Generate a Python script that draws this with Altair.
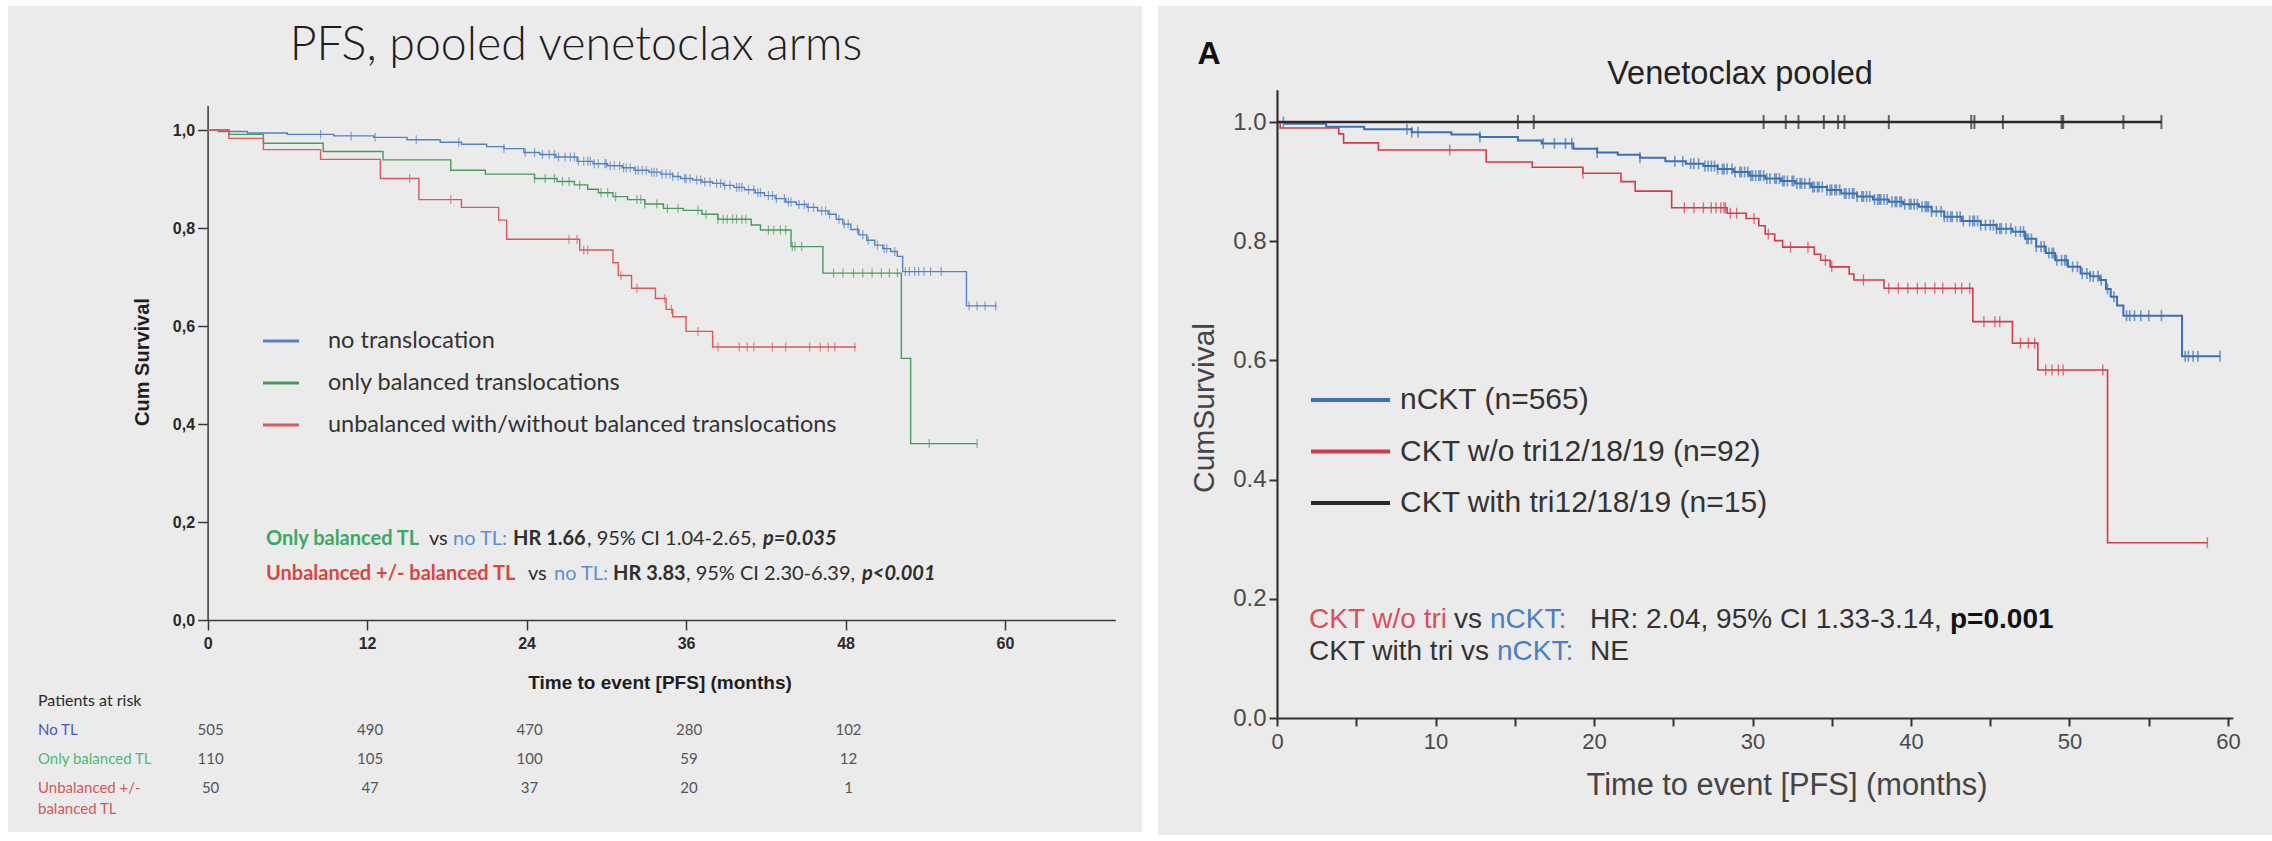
import altair as alt
import numpy as np
import pandas as pd

# ---------------- Left panel: PFS by translocation status ----------------
L_NO_T = [0, 0.8, 3, 6, 9.5, 12.5, 15, 17.5, 19.1, 21, 22.3, 23.8, 25.0, 26.2, 27.8, 29.0, 30.1,
          31.2, 32.1, 33.2, 34.1, 35.0, 35.6, 36.5, 37.2, 38.0, 38.8, 39.6, 40.4, 41.2, 41.9, 42.7,
          43.5, 44.3, 45.1, 45.9, 46.7, 47.3, 47.8, 48.4, 49.0, 49.6, 50.2, 50.8, 51.4, 51.9, 52.3,
          57.1, 59.4]
L_NO_S = [1.0, 0.997, 0.994, 0.991, 0.988, 0.985, 0.980, 0.975, 0.971, 0.966, 0.962, 0.954, 0.950,
          0.945, 0.936, 0.931, 0.927, 0.923, 0.918, 0.914, 0.910, 0.905, 0.901, 0.898, 0.894, 0.891,
          0.887, 0.883, 0.878, 0.872, 0.866, 0.860, 0.853, 0.848, 0.842, 0.835, 0.828, 0.818, 0.808,
          0.797, 0.786, 0.775, 0.765, 0.758, 0.752, 0.742, 0.711, 0.641, 0.641]
L_NO_CENS = [8.5, 10.8, 12.6, 15.7, 18.9, 22.3, 23.9, 24.6, 25.2, 25.7, 26.4, 26.9, 27.3, 27.9, 28.3,
             28.6, 29.1, 29.4, 29.9, 30.3, 30.6, 31.0, 31.5, 31.8, 32.2, 32.7, 33.0, 33.4, 33.8, 34.2,
             34.5, 35.0, 35.4, 35.9, 36.3, 36.8, 37.4, 37.8, 38.3, 38.9, 39.3, 39.8, 40.2, 40.7, 41.1,
             41.6, 42.2, 42.8, 43.4, 43.9, 44.5, 44.9, 45.6, 46.2, 46.8, 47.5, 48.2, 48.9, 49.7, 50.4,
             51.1, 51.7, 52.5, 52.8, 53.2, 53.5, 53.9, 54.4, 55.2, 57.3, 57.9, 58.5, 59.3,
             26.1, 27.6, 28.8, 30.0, 31.3, 32.4, 33.6, 34.8, 36.0, 37.1, 38.6, 40.0, 41.4, 42.5,
             43.7, 45.2, 46.5, 47.9, 49.3, 50.9]

L_BAL_T = [0, 1.6, 4.2, 8.7, 13.2, 18.3, 20.9, 24.6, 26.3, 27.6, 28.6, 29.4, 30.5, 31.6, 32.9, 34.3,
           35.8, 37.2, 38.4, 40.9, 41.6, 43.9, 46.3, 52.2, 52.9, 57.9]
L_BAL_S = [1.0, 0.991, 0.973, 0.956, 0.939, 0.918, 0.910, 0.901, 0.895, 0.888, 0.879, 0.872, 0.864,
           0.858, 0.849, 0.840, 0.836, 0.828, 0.818, 0.806, 0.796, 0.762, 0.708, 0.534, 0.360, 0.360]
L_BAL_CENS = [24.6, 25.4, 26.1, 26.7, 27.2, 28.0, 29.6, 30.1, 30.7, 32.3, 32.6, 32.9, 33.8, 34.6, 35.4,
              36.9, 37.5, 38.4, 38.8, 39.1, 39.5, 39.8, 40.2, 40.5, 42.2, 42.6, 43.1, 43.5, 44.0, 44.2,
              44.7, 47.1, 47.8, 48.6, 49.3, 50.0, 50.7, 51.3, 51.9, 54.3, 57.9]

L_UNB_T = [0, 1.6, 4.2, 8.5, 13.0, 15.9, 19.1, 21.9, 22.5, 28.0, 30.5, 30.9, 31.9, 33.7, 34.5, 35.0,
           36.0, 38.0, 48.8]
L_UNB_S = [1.0, 0.983, 0.960, 0.940, 0.901, 0.858, 0.842, 0.816, 0.777, 0.755, 0.729, 0.703, 0.677,
           0.656, 0.634, 0.619, 0.589, 0.557, 0.557]
L_UNB_CENS = [15.2, 18.3, 27.2, 27.8, 28.3, 28.6, 31.1, 32.3, 34.4, 34.9, 36.9, 38.4, 40.0, 40.6, 41.1,
              42.5, 43.5, 45.3, 46.1, 46.7, 47.2, 48.7]

RISK_MONTHS = [0, 12, 24, 36, 48]
RISK_NO_TL = [505, 490, 470, 280, 102]
RISK_BAL = [110, 105, 100, 59, 12]
RISK_UNBAL = [50, 47, 37, 20, 1]

# ---------------- Right panel: PFS by karyotype complexity ----------------
R_NCKT_T = [0, 0.5, 3.1, 5.5, 8.5, 11.0, 12.8, 15.2, 16.7, 18.7, 20.2, 21.5, 22.9, 24.5, 25.8, 26.9,
            27.8, 28.8, 29.8, 30.8, 31.8, 32.7, 33.7, 34.7, 35.6, 36.6, 37.6, 38.6, 39.5, 40.5, 41.3,
            42.1, 43.2, 44.4, 45.4, 46.4, 47.2, 47.9, 48.5, 49.1, 49.9, 50.7, 51.3, 51.9, 52.3, 52.6,
            53.0, 53.4, 57.1, 59.5]
R_NCKT_S = [1.0, 0.997, 0.992, 0.988, 0.983, 0.979, 0.975, 0.969, 0.964, 0.955, 0.949, 0.945, 0.940,
            0.934, 0.930, 0.926, 0.921, 0.916, 0.910, 0.905, 0.901, 0.897, 0.891, 0.886, 0.880, 0.875,
            0.870, 0.866, 0.862, 0.858, 0.850, 0.841, 0.834, 0.827, 0.821, 0.816, 0.804, 0.791, 0.780,
            0.768, 0.757, 0.746, 0.741, 0.735, 0.720, 0.707, 0.692, 0.675, 0.607, 0.607]
R_NCKT_CENS = [0.4, 8.2, 8.5, 8.9, 12.8, 16.8, 17.5, 18.2, 18.6, 20.2, 22.9, 25.1, 25.6, 26.1, 26.6,
               27.0, 27.2, 27.6, 28.1, 28.4, 28.7, 29.2, 29.5, 29.9, 30.2, 30.5, 30.9, 31.4, 31.7,
               32.0, 32.5, 32.8, 33.1, 33.6, 33.9, 34.2, 34.7, 35.0, 35.3, 35.8, 36.1, 36.4, 36.9,
               37.2, 37.7, 38.0, 38.3, 38.8, 39.1, 39.4, 39.9, 40.2, 40.7, 41.0, 41.3, 41.9, 42.3,
               42.6, 43.1, 43.7, 44.0, 44.4, 45.0, 45.4, 45.7, 46.3, 46.9, 47.3, 47.6, 48.2, 48.7,
               49.0, 49.5, 49.8, 50.5, 51.1, 51.5, 52.0, 52.4, 52.8, 53.6, 53.8, 54.1, 54.5, 55.0,
               55.8, 57.3, 57.5, 57.8, 58.1, 59.5,
               26.3, 27.4, 27.8, 28.2, 28.9, 29.3, 29.7, 30.0, 30.4, 30.7, 31.1, 31.5, 31.9, 32.2,
               32.6, 33.0, 33.3, 33.8, 34.1, 34.4, 34.9, 35.2, 35.5, 35.9, 36.3, 36.6, 37.0, 37.4,
               37.9, 38.1, 38.5, 39.0, 39.3, 39.6, 40.0, 40.4, 40.9, 41.1, 41.6, 42.1, 42.5, 42.9,
               43.3, 43.9, 44.2, 44.7, 45.2, 45.6, 46.0, 46.6, 47.1, 47.4, 47.9, 48.4, 48.9, 49.2,
               49.7, 50.2, 50.8, 51.3, 51.8]

R_CKT_T = [0, 0.2, 3.9, 4.2, 6.4, 13.2, 16.1, 19.3, 21.7, 22.6, 24.9, 28.4, 29.6, 30.4, 30.8, 31.4,
           31.9, 33.9, 34.3, 34.9, 36.1, 36.4, 38.3, 43.9, 46.4, 48.0, 52.4, 58.7]
R_CKT_S = [1.0, 0.990, 0.980, 0.965, 0.953, 0.933, 0.924, 0.914, 0.900, 0.884, 0.856, 0.847, 0.838,
           0.826, 0.812, 0.801, 0.790, 0.778, 0.768, 0.757, 0.745, 0.735, 0.721, 0.665, 0.629, 0.584,
           0.294, 0.294]
R_CKT_CENS = [10.9, 19.3, 25.7, 26.3, 26.9, 27.4, 27.7, 28.0, 28.2, 28.3, 28.6, 29.0, 30.1, 31.0, 32.4,
              33.5, 34.6, 35.0, 37.0, 38.6, 39.2, 39.8, 40.4, 40.9, 41.5, 42.0, 42.8, 43.2, 43.7, 44.6,
              45.3, 45.6, 46.9, 47.4, 47.8, 48.5, 48.9, 49.3, 49.6, 52.1, 58.7]

R_TRI_T = [0, 55.8]
R_TRI_S = [1.0, 1.0]
R_TRI_CENS = [15.2, 16.2, 30.7, 32.1, 32.9, 34.5, 35.4, 35.8, 38.6, 43.8, 44.0, 45.8, 49.5, 49.6,
              53.4, 55.8]

# ---------------- colours and fonts ----------------
BG = "#ebebeb"
L_BLUE, L_GREEN, L_RED = "#5680c4", "#4a9a5c", "#d95a5a"
R_BLUE, R_RED, R_BLACK = "#3b70b6", "#d23c48", "#2a2a2a"
CALIBRI = "Lato"
ARIAL = "Liberation Sans"

ONE = pd.DataFrame({"k": [0]})


def step_frame(t, s):
    return pd.DataFrame({"t": t, "s": s})


def censor_frame(ct, t, s):
    idx = np.searchsorted(np.asarray(t), np.asarray(ct), side="right") - 1
    return pd.DataFrame({"t": ct, "s": np.asarray(s)[idx]})


def km(t, s, cens, x, y, color, width, tick, thick):
    line = alt.Chart(step_frame(t, s)).mark_line(
        interpolate="step-after", color=color, strokeWidth=width).encode(x=x, y=y)
    ticks = alt.Chart(censor_frame(cens, t, s)).mark_tick(
        orient="vertical", color=color, size=tick, thickness=thick).encode(x=x, y=y)
    return [line, ticks]


def text(s, x, y, size, color, font, weight="normal", style="normal", align="left", angle=0):
    return alt.Chart(ONE).mark_text(
        text=s, fontSize=size, color=color, font=font, fontWeight=weight, fontStyle=style,
        align=align, baseline="middle", angle=angle).encode(x=alt.value(x), y=alt.value(y))


def rule(x1, x2, y, color, width):
    return alt.Chart(ONE).mark_rule(color=color, strokeWidth=width).encode(
        x=alt.value(x1), x2=alt.value(x2), y=alt.value(y))


# ---------------- left panel ----------------
LW, LH = 1134, 826
LX0, LPX = 199.6, 13.29          # x origin and pixels per month
LY0, LPY = 614.0, 490.0          # y origin and pixels per unit survival
lx = alt.X("t:Q", scale=alt.Scale(domain=[0, 68.3], range=[LX0, LX0 + 68.3 * LPX], nice=False, zero=False),
           axis=alt.Axis(values=[0, 12, 24, 36, 48, 60], offset=-(LH - LY0), title=None, grid=False,
                         tickSize=10, tickWidth=1.5, tickColor="#3a3a3a", domainColor="#3a3a3a",
                         domainWidth=1.5, labelFont=ARIAL, labelFontWeight="bold", labelFontSize=16,
                         labelColor="#2a2a2a", labelPadding=5, labelFlush=False, labelOverlap=False))
ly = alt.Y("s:Q", scale=alt.Scale(domain=[0, 1.05], range=[LY0, LY0 - 1.05 * LPY], nice=False, zero=False),
           axis=alt.Axis(values=[0, 0.2, 0.4, 0.6, 0.8, 1.0], offset=-LX0, title=None, grid=False,
                         labelExpr="replace(format(datum.value, '.1f'), '.', ',')",
                         tickSize=10, tickWidth=1.5, tickColor="#3a3a3a", domainColor="#3a3a3a",
                         domainWidth=1.5, labelFont=ARIAL, labelFontWeight="bold", labelFontSize=16,
                         labelColor="#2a2a2a", labelPadding=3, labelFlush=False, labelOverlap=False))

left_layers = []
left_layers += km(L_NO_T, L_NO_S, L_NO_CENS, lx, ly, L_BLUE, 1.4, 9, 1.2)
left_layers += km(L_BAL_T, L_BAL_S, L_BAL_CENS, lx, ly, L_GREEN, 1.4, 9, 1.2)
left_layers += km(L_UNB_T, L_UNB_S, L_UNB_CENS, lx, ly, L_RED, 1.4, 9, 1.2)

left_layers.append(text("PFS, pooled venetoclax arms", 568, 40, 46.5, "#1e1e1e", CALIBRI, weight=300,
                        align="center"))
left_layers.append(text("Cum Survival", 135, 356, 20, "#1e1e1e", ARIAL, weight="bold", align="center",
                        angle=270))
left_layers.append(text("Time to event [PFS] (months)", 652, 677, 19, "#1e1e1e", ARIAL, weight="bold",
                        align="center"))

# legend
for i, (lab, col) in enumerate([("no translocation", L_BLUE),
                                 ("only balanced translocations", L_GREEN),
                                 ("unbalanced with/without balanced translocations", L_RED)]):
    yy = 335 + i * 42
    left_layers.append(rule(255, 291, yy, col, 3))
    left_layers.append(text(lab, 320, yy, 23.5, "#333333", CALIBRI))

# hazard ratio statements
DARK = "#2e2e2e"
NOTE_GREEN, NOTE_BLUE, NOTE_RED = "#3aa866", "#5b8fd6", "#d9463f"
hr_lines = [
    (533, [("Only balanced TL", NOTE_GREEN, "bold", "normal", 258),
           ("vs", DARK, "normal", "normal", 421),
           ("no TL:", NOTE_BLUE, "normal", "normal", 445),
           ("HR 1.66", DARK, "bold", "normal", 505),
           (", 95% CI 1.04-2.65,", DARK, "normal", "normal", 579),
           ("p=0.035", DARK, "bold", "italic", 755)]),
    (568, [("Unbalanced +/- balanced TL", NOTE_RED, "bold", "normal", 258),
           ("vs", DARK, "normal", "normal", 520),
           ("no TL:", NOTE_BLUE, "normal", "normal", 546),
           ("HR 3.83", DARK, "bold", "normal", 605),
           (", 95% CI 2.30-6.39,", DARK, "normal", "normal", 678),
           ("p<0.001", DARK, "bold", "italic", 854)]),
]
for yy, segs in hr_lines:
    for s, col, w, st, xx in segs:
        left_layers.append(text(s, xx, yy, 20, col, CALIBRI, weight=w, style=st))

# patients at risk table
left_layers.append(text("Patients at risk", 30, 695, 16, "#2a2a2a", CALIBRI))
risk_rows = [("No TL", "#4b55c8", RISK_NO_TL, 724),
             ("Only balanced TL", "#4fb877", RISK_BAL, 753),
             ("Unbalanced +/-", "#cf5a5a", RISK_UNBAL, 782)]
for lab, col, counts, yy in risk_rows:
    left_layers.append(text(lab, 30, yy, 15, col, CALIBRI))
    left_layers.append(
        alt.Chart(pd.DataFrame({"t": RISK_MONTHS, "n": counts})).mark_text(
            fontSize=15, font=CALIBRI, color="#555555", align="center", baseline="middle", dx=3
        ).encode(x=lx, y=alt.value(yy), text="n:Q"))
left_layers.append(text("balanced TL", 30, 803, 15, "#cf5a5a", CALIBRI))

left = alt.layer(*left_layers).properties(width=LW, height=LH)

# ---------------- right panel ----------------
RW, RH = 1114, 829
RX0, RPX = 119.0, 15.85
RY0, RPY = 712.0, 596.0
rx = alt.X("t:Q", scale=alt.Scale(domain=[0, 60.3], range=[RX0, RX0 + 60.3 * RPX], nice=False, zero=False),
           axis=alt.Axis(values=list(range(0, 61, 5)), offset=-(RH - RY0), title=None, grid=False,
                         labelExpr="datum.value % 10 == 0 ? datum.label : ''",
                         tickSize=8, tickWidth=2, tickColor="#333333", domainColor="#333333",
                         domainWidth=2.2, labelFont=ARIAL, labelFontSize=22, labelColor="#4a4a4a",
                         labelPadding=5, labelFlush=False, labelOverlap=False))
ry = alt.Y("s:Q", scale=alt.Scale(domain=[0, 1.054], range=[RY0, RY0 - 1.054 * RPY], nice=False, zero=False),
           axis=alt.Axis(values=[0, 0.2, 0.4, 0.6, 0.8, 1.0], format=".1f", offset=-RX0, title=None,
                         grid=False, tickSize=8, tickWidth=2, tickColor="#333333", domainColor="#333333",
                         domainWidth=2.2, labelFont=ARIAL, labelFontSize=24, labelColor="#4a4a4a",
                         labelPadding=3, labelFlush=False, labelOverlap=False))

right_layers = []
right_layers += km(R_NCKT_T, R_NCKT_S, R_NCKT_CENS, rx, ry, R_BLUE, 2.0, 11, 1.6)
right_layers += km(R_CKT_T, R_CKT_S, R_CKT_CENS, rx, ry, R_RED, 1.6, 11, 1.4)
right_layers += km(R_TRI_T, R_TRI_S, R_TRI_CENS, rx, ry, R_BLACK, 2.6, 14, 2.0)

right_layers.append(text("A", 51, 48, 32, "#111111", ARIAL, weight="bold", align="center"))
right_layers.append(text("Venetoclax pooled", 582, 68, 32.5, "#222222", ARIAL, align="center"))
right_layers.append(text("CumSurvival", 47, 402, 30, "#444444", ARIAL, align="center", angle=270))
right_layers.append(text("Time to event [PFS] (months)", 629, 780, 30.8, "#444444", ARIAL, align="center"))

for i, (lab, col) in enumerate([("nCKT (n=565)", R_BLUE),
                                 ("CKT w/o tri12/18/19 (n=92)", R_RED),
                                 ("CKT with tri12/18/19 (n=15)", R_BLACK)]):
    yy = 394 + i * 51.5
    right_layers.append(rule(153, 232, yy, col, 4))
    right_layers.append(text(lab, 242, yy, 30, "#333333", ARIAL))

NOTE_R_RED, NOTE_R_BLUE, NOTE_R_DARK = "#d9505c", "#4a7fc6", "#333333"
r_notes = [
    (614, [("CKT w/o tri", NOTE_R_RED, "normal", 151),
           ("vs", NOTE_R_DARK, "normal", 296),
           ("nCKT:", NOTE_R_BLUE, "normal", 332),
           ("HR: 2.04, 95% CI 1.33-3.14,", NOTE_R_DARK, "normal", 432),
           ("p=0.001", "#111111", "bold", 792)]),
    (646, [("CKT with tri vs", NOTE_R_DARK, "normal", 151),
           ("nCKT:", NOTE_R_BLUE, "normal", 339),
           ("NE", NOTE_R_DARK, "normal", 432)]),
]
for yy, segs in r_notes:
    for s, col, w, xx in segs:
        right_layers.append(text(s, xx, yy, 28, col, ARIAL, weight=w))

right = alt.layer(*right_layers).properties(width=RW, height=RH)

chart = alt.hconcat(left, right, spacing=16, bounds="flush").properties(
    padding={"left": 8, "top": 6, "right": 0, "bottom": 6},
    background="white",
).configure_view(fill=BG, stroke=None)

chart.save("out.html", embed_options={"renderer": "svg", "actions": False})
